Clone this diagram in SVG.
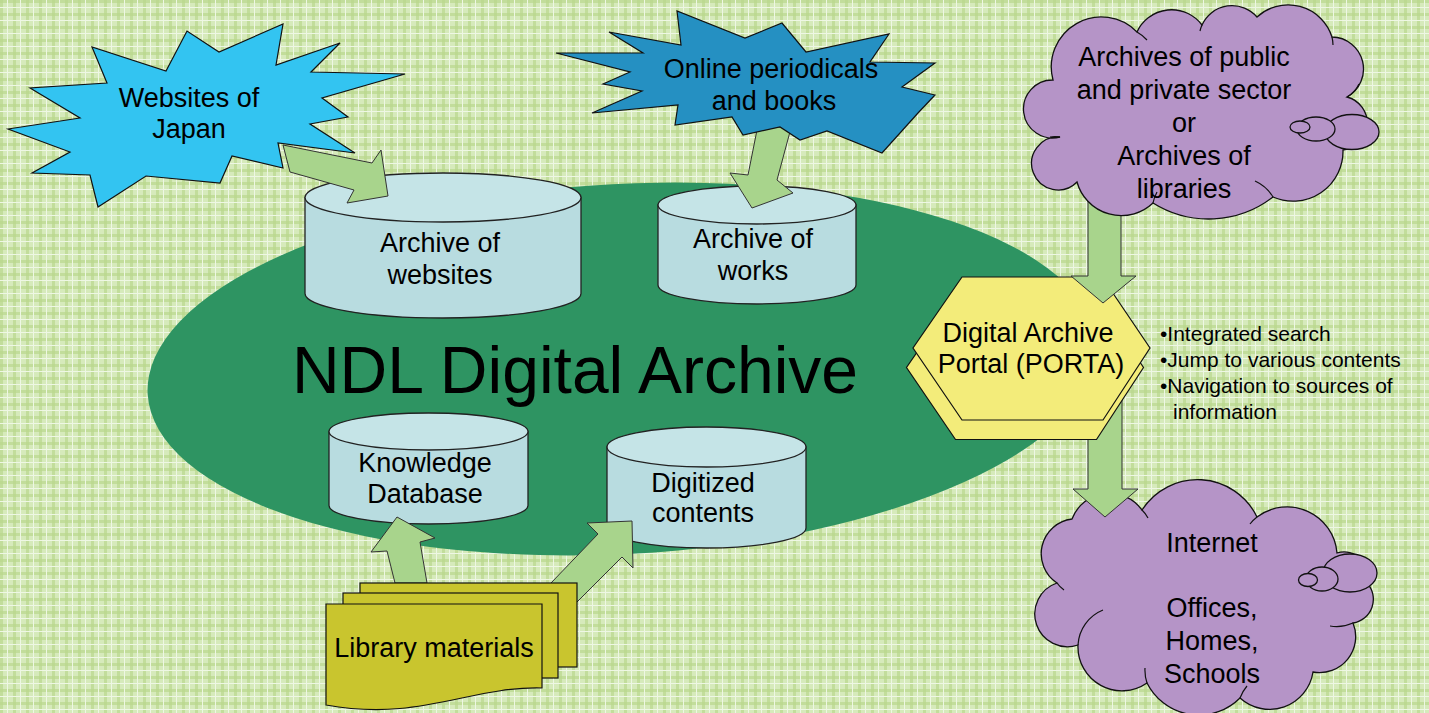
<svg xmlns="http://www.w3.org/2000/svg" width="1429" height="713" viewBox="0 0 1429 713">
<defs>
<pattern id="bg" width="13" height="13" patternUnits="userSpaceOnUse">
<rect width="13" height="13" fill="#d6eabb"/>
<rect x="0" y="0" width="3" height="13" fill="#b9d78e" opacity="0.7"/>
<rect x="0" y="0" width="13" height="3" fill="#b9d78e" opacity="0.7"/>
<rect x="7" y="0" width="1" height="13" fill="#eef7e4"/>
<rect x="0" y="7" width="13" height="1" fill="#eef7e4"/>
</pattern>
<style>
.t{font-family:"Liberation Sans",Arial,sans-serif;font-size:27px;fill:#000;text-anchor:middle}
.b{font-family:"Liberation Sans",Arial,sans-serif;font-size:21px;fill:#000}
.cylside{fill:#b8dce0;stroke:#222;stroke-width:1.3}
.cyltop{fill:#c5e4e7;stroke:#222;stroke-width:1.3}
.arr{fill:#a8d48c;stroke:#333;stroke-width:1}
.cloud{fill:#b594c7;stroke:#111;stroke-width:1.3}
.inner{fill:none;stroke:#111;stroke-width:1.2}
.hex{fill:#f3ec7a;stroke:#111;stroke-width:1.2}
.doc{fill:#c9c52e;stroke:#111;stroke-width:1.2}
.star{stroke:#111;stroke-width:1.2;stroke-linejoin:miter}
</style>
</defs>
<rect width="1429" height="713" fill="url(#bg)"/>

<g id="ndl-archive">
<ellipse cx="622" cy="369" rx="475" ry="185" transform="rotate(-3 622 369)" fill="#2e9462"/>
<text class="t" x="575" y="393" style="font-size:66px">NDL Digital Archive</text>
</g>

<g id="archive-websites">
<path class="cylside" d="M305,197.5 V293.5 A138,24.5 0 0 0 581,293.5 V197.5 Z"/>
<ellipse class="cyltop" cx="443" cy="197.5" rx="138" ry="24.5"/>
<text class="t" x="440" y="252">Archive of</text>
<text class="t" x="440" y="284">websites</text>
</g>

<g id="archive-works">
<path class="cylside" d="M658,205 V285 A99,19 0 0 0 856,285 V205 Z"/>
<ellipse class="cyltop" cx="757" cy="205" rx="99" ry="19"/>
<text class="t" x="753" y="248">Archive of</text>
<text class="t" x="753" y="280">works</text>
</g>

<g id="knowledge-db">
<path class="cylside" d="M329,431.5 V505.5 A99.5,18.5 0 0 0 528,505.5 V431.5 Z"/>
<ellipse class="cyltop" cx="428.5" cy="431.5" rx="99.5" ry="18.5"/>
<text class="t" x="425" y="472">Knowledge</text>
<text class="t" x="425" y="503">Database</text>
</g>

<g id="digitized">
<path class="cylside" d="M607,447 V528 A99.5,20 0 0 0 806,528 V447 Z"/>
<ellipse class="cyltop" cx="706.5" cy="447" rx="99.5" ry="20"/>
<text class="t" x="703" y="492">Digitized</text>
<text class="t" x="703" y="522">contents</text>
</g>

<g id="cloud-internet">
<path class="cloud" d="M1072,519 A40,40 0 0 1 1142,510 A66,66 0 0 1 1257,517 A50,50 0 0 1 1337,553 A24,24 0 0 1 1367,583 A24,24 0 0 1 1353,623 A36,36 0 0 1 1313,672 A44,44 0 0 1 1240,698 A58,58 0 0 1 1147,683 A44,44 0 0 1 1078,645 A1,1 0 0 1 1057,583 A35,35 0 0 1 1072,519 Z"/>
<path class="inner" d="M1078,645 A40,40 0 0 1 1103,610 M1147,683 A40,40 0 0 1 1145,668 M1240,698 A40,40 0 0 1 1247,686 M1353,623 A40,40 0 0 1 1330,626 M1142,510 A30,30 0 0 1 1148,518 M1257,517 A40,40 0 0 0 1250,524 M1057,583 A30,30 0 0 0 1064,590"/>
<ellipse class="cloud" cx="1350" cy="573" rx="27" ry="19"/>
<ellipse class="cloud" cx="1322" cy="579" rx="16" ry="12"/>
<ellipse class="cloud" cx="1308" cy="580" rx="9.5" ry="6.5"/>
<text class="t" x="1212" y="552">Internet</text>
<text class="t" x="1212" y="617">Offices,</text>
<text class="t" x="1212" y="650">Homes,</text>
<text class="t" x="1212" y="683">Schools</text>
</g>

<g id="connectors">
<polygon class="arr" points="283,145 372,163 381,150 388,196 347,203 354,190 290,172"/>
<polygon class="arr" points="758,125 791,128 777,180 793,193 752,208 730,173 748,175"/>
<polygon class="arr" points="395,583 387,551 371,552 397,517 435,538 420,542 427,583"/>
<polygon class="arr" points="551,583 598,534 587,523 632,521 633,568 622,557 577,602"/>
<polygon class="arr" points="1088,400 1088,489 1073,489 1105,517 1138,489 1122,489 1122,400"/>
</g>

<g id="porta">
<polygon class="hex" points="955.5,296.5 1096.5,296.5 1143.5,367.5 1096.5,439.5 955.5,439.5 906.5,367.5"/>
<polygon class="hex" points="962,277 1102,277 1150,348 1103,420 962,420 913,348"/>
<text class="t" x="1028" y="342">Digital Archive</text>
<text class="t" x="1031" y="373">Portal (PORTA)</text>
</g>

<g id="connector-down">
<polygon class="arr" points="1088,190 1088,276 1071,276 1103,303 1136,276 1121,276 1121,190"/>
</g>

<g id="cloud-archives">
<path class="cloud" d="M1053,80 A50,50 0 0 1 1137,32 A38,38 0 0 1 1202,25 A33,33 0 0 1 1257,17 A46,46 0 0 1 1332,37 A32,32 0 0 1 1347,97 A27,27 0 0 1 1343,150 A50,50 0 0 1 1273,197 A105,105 0 0 1 1153,203 A46,46 0 0 1 1077,182 A26.5,26.5 0 1 1 1060,137 A29,29 0 1 1 1053,80 Z"/>
<path class="inner" d="M1137,32 A40,40 0 0 1 1147,40 M1202,25 A30,30 0 0 0 1200,31 M1332,37 A40,40 0 0 1 1333,45 M1347,97 A30,30 0 0 0 1359,84 M1273,197 A40,40 0 0 0 1255,181 M1153,203 A40,40 0 0 1 1157,192 M1060,137 A30,30 0 0 0 1050,137"/>
<ellipse class="cloud" cx="1352" cy="132" rx="27" ry="17.5"/>
<ellipse class="cloud" cx="1316" cy="129" rx="19" ry="12"/>
<ellipse class="cloud" cx="1300" cy="127" rx="10" ry="6"/>
<text class="t" x="1184" y="66">Archives of public</text>
<text class="t" x="1184" y="99">and private sector</text>
<text class="t" x="1184" y="132">or</text>
<text class="t" x="1184" y="165">Archives of</text>
<text class="t" x="1184" y="198">libraries</text>
</g>

<g id="porta-notes">
<text class="b" x="1160" y="341">•Integrated search</text>
<text class="b" x="1160" y="367">•Jump to various contents</text>
<text class="b" x="1160" y="393">•Navigation to sources of</text>
<text class="b" x="1173" y="419">information</text>
</g>

<g id="websites-japan">
<polygon class="star" fill="#33c4f1" points="8,129 80,118 30,88 107,83 92,47 166,71 187,31 219,52 283,24 276,65 340,43 311,72 405,74 322,98 348,117 310,124 355,153 278,143 283,168 232,156 220,183 146,176 98,207 90,175 32,173 70,152"/>
<text class="t" x="189" y="107">Websites of</text>
<text class="t" x="189" y="138">Japan</text>
</g>

<g id="online-periodicals">
<polygon class="star" fill="#2590c2" points="556,53 643,53 609,32 681,45 677,11 745,38 782,23 806,52 889,34 870,62 935,63 902,87 935,95 918,113 882,153 827,131 800,140 780,127 743,135 732,117 675,125 678,105 592,113 642,91 603,84 630,72"/>
<text class="t" x="771" y="78">Online periodicals</text>
<text class="t" x="774" y="110">and books</text>
</g>

<g id="library-materials">
<rect class="doc" x="360" y="583" width="217" height="84"/>
<rect class="doc" x="343" y="593" width="215" height="85"/>
<path class="doc" d="M326,604 H542 V688 C470,686 420,722 326,705 Z"/>
<text class="t" x="434" y="657">Library materials</text>
</g>
</svg>
